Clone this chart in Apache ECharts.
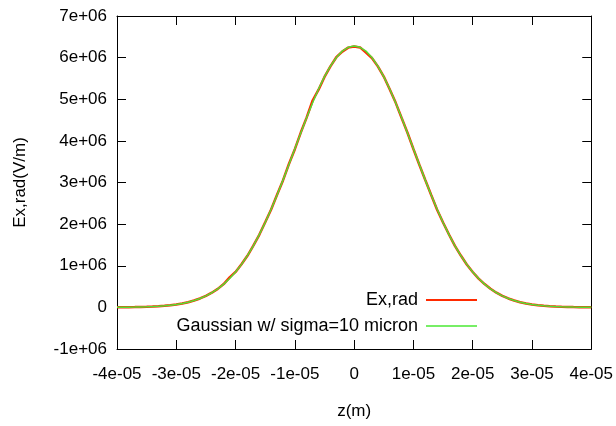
<!DOCTYPE html>
<html>
<head>
<meta charset="utf-8">
<script src="https://cdn.jsdelivr.net/npm/echarts@6/dist/echarts.min.js"></script>
<style>html,body{margin:0;padding:0;background:#fff}#c{width:616px;height:426px}</style>
</head>
<body>
<div id="c"></div>
<script>
// z positions in micron (converted to metres below)
var zMicron = [-40,-39,-38,-37,-36,-35,-34,-33,-32,-31,-30,-29,-28,-27,-26,-25,-24,-23,-22,-21,-20,-19,-18,-17,-16,-15,-14,-13,-12,-11,-10,-9,-8,-7,-6,-5,-4,-3,-2,-1,0,1,2,3,4,5,6,7,8,9,10,11,12,13,14,15,16,17,18,19,20,21,22,23,24,25,26,27,28,29,30,31,32,33,34,35,36,37,38,39,40];
// Ex,rad in MV/m
var exRad = [0.002,0.003,0.005,0.007,0.010,0.014,0.019,0.027,0.038,0.052,0.070,0.094,0.125,0.165,0.214,0.277,0.353,0.445,0.560,0.720,0.852,1.035,1.240,1.484,1.744,2.045,2.352,2.705,3.050,3.445,3.800,4.200,4.565,4.970,5.230,5.535,5.790,6.010,6.145,6.240,6.265,6.245,6.120,5.990,5.790,5.545,5.240,4.920,4.555,4.195,3.805,3.425,3.060,2.700,2.345,2.040,1.750,1.478,1.245,1.030,0.850,0.692,0.560,0.446,0.352,0.276,0.214,0.164,0.125,0.094,0.070,0.051,0.037,0.027,0.019,0.014,0.010,0.007,0.005,0.003,0.002];
// Gaussian fit in MV/m
var gauss = [0.0021,0.0031,0.0046,0.0067,0.0096,0.0137,0.0194,0.0271,0.0375,0.0514,0.0698,0.0936,0.125,0.164,0.214,0.276,0.352,0.446,0.558,0.693,0.850,1.033,1.243,1.480,1.746,2.039,2.357,2.698,3.057,3.430,3.809,4.189,4.560,4.915,5.246,5.542,5.797,6.004,6.156,6.249,6.280,6.249,6.156,6.004,5.797,5.542,5.246,4.915,4.560,4.189,3.809,3.430,3.057,2.698,2.357,2.039,1.746,1.480,1.243,1.033,0.850,0.693,0.558,0.446,0.352,0.276,0.214,0.164,0.125,0.0936,0.0698,0.0514,0.0375,0.0271,0.0194,0.0137,0.0096,0.0067,0.0046,0.0031,0.0021];
var xTicks = [-4e-5,-3e-5,-2e-5,-1e-5,0,1e-5,2e-5,3e-5,4e-5];
var yTicks = [-1e6,0,1e6,2e6,3e6,4e6,5e6,6e6,7e6];
var seriesNames = ['Ex,rad','Gaussian w/ sigma=10 micron'];

function fmtExp(v){
  if (Math.abs(v) < 1e-20) return '0';
  var s = v.toExponential(0);
  var m = s.split('e');
  var ex = parseInt(m[1],10);
  var sign = ex < 0 ? '-' : '+';
  var a = Math.abs(ex);
  return m[0] + 'e' + sign + (a < 10 ? '0' + a : '' + a);
}
function pairs(ys){ return zMicron.map(function(z,i){ return [z*1e-6, ys[i]*1e6]; }); }

var FONT = 'Liberation Sans, Arial, Helvetica, sans-serif';
function axisCommon(){ return {
  axisLine:{show:true,onZero:false,lineStyle:{color:'#000',width:1}},
  axisTick:{show:true,inside:true,length:9,lineStyle:{color:'#000',width:1}},
  splitLine:{show:false}
};}
var chart = echarts.init(document.getElementById('c'), null, {renderer:'canvas'});
chart.setOption({
  animation:false,
  backgroundColor:'#fff',
  textStyle:{fontFamily:FONT},
  grid:{left:117,right:23,top:16,bottom:77,containLabel:false},
  xAxis:[
    Object.assign({type:'value',position:'bottom',min:xTicks[0],max:xTicks[xTicks.length-1],interval:1e-5,
      name:'z(m)',nameLocation:'middle',nameGap:54,
      nameTextStyle:{fontFamily:FONT,fontSize:17,color:'#000'},
      axisLabel:{formatter:fmtExp,fontFamily:FONT,fontSize:17,color:'#000',margin:17}},axisCommon()),
    Object.assign({type:'value',position:'top',min:xTicks[0],max:xTicks[xTicks.length-1],interval:1e-5,
      axisLabel:{show:false}},axisCommon())
  ],
  yAxis:[
    Object.assign({type:'value',position:'left',min:yTicks[0],max:yTicks[yTicks.length-1],interval:1e6,
      name:'Ex,rad(V/m)',nameLocation:'middle',nameGap:88,nameRotate:90,
      nameTextStyle:{fontFamily:FONT,fontSize:17,color:'#000'},
      axisLabel:{formatter:fmtExp,fontFamily:FONT,fontSize:17,color:'#000',margin:10}},axisCommon()),
    Object.assign({type:'value',position:'right',min:yTicks[0],max:yTicks[yTicks.length-1],interval:1e6,
      axisLabel:{show:false}},axisCommon())
  ],
  legend:[
    {data:[seriesNames[0]],right:139,top:290,orient:'vertical',align:'right',padding:0,
     icon:'rect',itemWidth:51,itemHeight:2,itemGap:0,
     textStyle:{fontFamily:FONT,fontSize:18,color:'#000',lineHeight:20,padding:[0,3,0,0]}},
    {data:[seriesNames[1]],right:139,top:316,orient:'vertical',align:'right',padding:0,
     icon:'rect',itemWidth:51,itemHeight:2,itemGap:0,
     textStyle:{fontFamily:FONT,fontSize:18,color:'#000',lineHeight:20,padding:[0,3,0,0]}}
  ],
  series:[
    {name:seriesNames[0],type:'line',xAxisIndex:0,yAxisIndex:0,data:pairs(exRad),showSymbol:false,symbol:'none',
     lineStyle:{color:'#ff2a00',width:2.5},itemStyle:{color:'#ff2a00'},z:2},
    {name:seriesNames[1],type:'line',xAxisIndex:0,yAxisIndex:0,data:pairs(gauss),showSymbol:false,symbol:'none',
     lineStyle:{color:'#55dd33',width:1.5},itemStyle:{color:'#77ee66'},z:3}
  ]
});
</script>
</body>
</html>
